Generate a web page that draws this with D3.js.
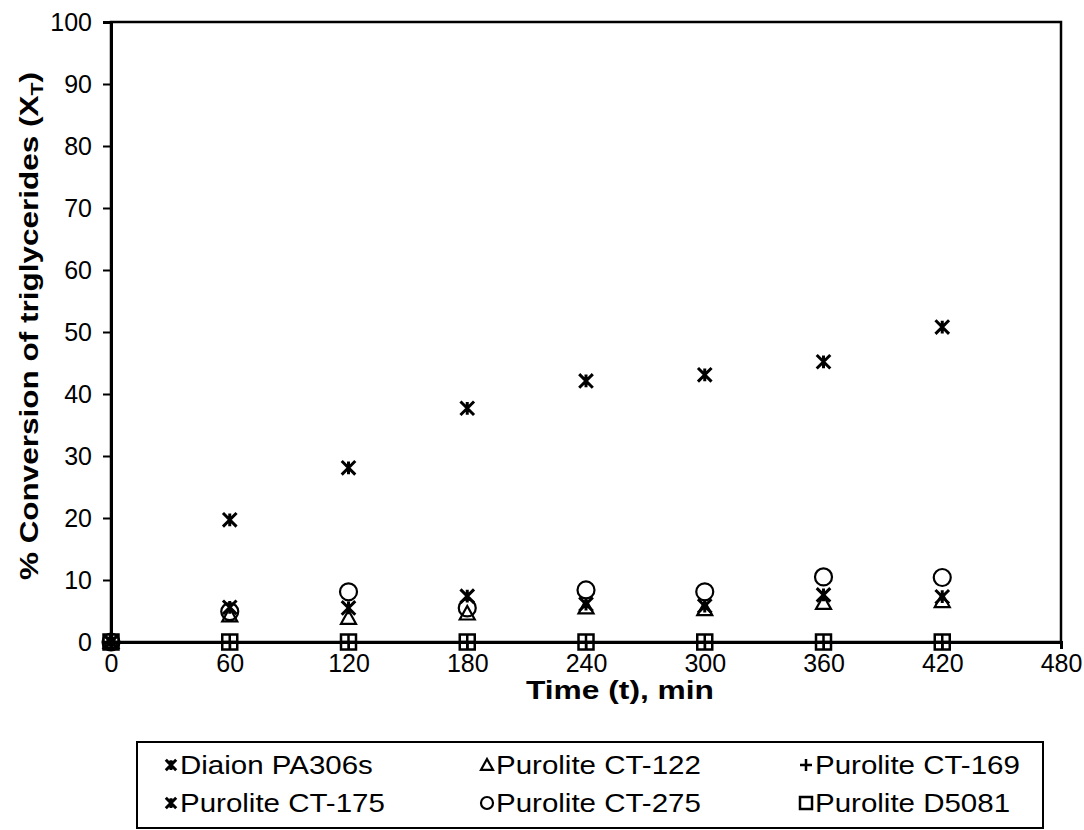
<!DOCTYPE html>
<html>
<head>
<meta charset="UTF-8">
<style>
body { margin: 0 ; background-color: #ffffff ; font-family: Arial, "Liberation Sans", sans-serif ; }
.tick text { font-size: 25px ; font-family: Arial, "Liberation Sans", sans-serif ; fill: #000 ; }
.legend-text { font-size: 25px ; }
</style>
<title>Conversion</title>
<script src="https://cdn.jsdelivr.net/npm/d3@7"></script>
</head>
<body>
<div id="chart"></div>
<script type="text/javascript" charset="utf-8">

	const times = [ 0, 60, 120, 180, 240, 300, 360, 420 ] ;
	const xTicks = [ 0, 60, 120, 180, 240, 300, 360, 420, 480 ] ;
	const yTicks = [ 0, 10, 20, 30, 40, 50, 60, 70, 80, 90, 100 ] ;

	const diaionPA306s = [ 0, 19.7, 28.1, 37.7, 42.1, 43.1, 45.2, 50.8 ] ;
	const puroliteCT122 = [ 0, 4.3, 3.9, 4.6, 5.6, 5.3, 6.3, 6.6 ] ;
	const puroliteCT169 = [ 0, 0, 0, 0, 0, 0, 0, 0 ] ;
	const puroliteCT175 = [ 0, 5.6, 5.5, 7.4, 6.1, 5.8, 7.6, 7.3 ] ;
	const puroliteCT275 = [ 0, 4.9, 8.1, 5.5, 8.4, 8.1, 10.5, 10.4 ] ;
	const puroliteD5081 = [ 0, 0, 0, 0, 0, 0, 0, 0 ] ;

	const seriesNames = [ "Diaion PA306s", "Purolite CT-122", "Purolite CT-169",
		"Purolite CT-175", "Purolite CT-275", "Purolite D5081" ] ;
	const seriesValues = [ diaionPA306s, puroliteCT122, puroliteCT169,
		puroliteCT175, puroliteCT275, puroliteD5081 ] ;
	const seriesMarkers = [ "asterisk", "triangle", "plus", "asterisk", "circle", "square" ] ;

	const width = 1084 ;
	const height = 830 ;
	const margin = { left: 111, right: 23, top: 22, bottom: 188 } ;
	const stretch = 1.18 ;	// reference glyphs are wider than plain Arial

	const svg = d3.select( "#chart" ).append( "svg" )
		.attr( "width", width )
		.attr( "height", height ) ;

	const x = d3.scaleLinear()
		.domain( [ 0, 480 ] )
		.range( [ margin.left, width - margin.right ] ) ;
	const y = d3.scaleLinear()
		.domain( [ 0, 100 ] )
		.range( [ height - margin.bottom, margin.top ] ) ;

	// plot frame
	svg.append( "rect" )
		.attr( "x", x(0) ).attr( "y", y(100) )
		.attr( "width", x(480) - x(0) ).attr( "height", y(0) - y(100) )
		.attr( "fill", "none" ).attr( "stroke", "#000" ).attr( "stroke-width", 2.5 ) ;

	const xAxis = svg.append( "g" )
		.attr( "transform", "translate(0," + y(0) + ")" )
		.call( d3.axisBottom( x ).tickValues( xTicks ).tickSize( 7 ).tickPadding( 5 ) ) ;
	const yAxis = svg.append( "g" )
		.attr( "transform", "translate(" + x(0) + ",0)" )
		.call( d3.axisLeft( y ).tickValues( yTicks ).tickSize( 8 ).tickPadding( 11 ) ) ;
	[ xAxis, yAxis ].forEach( function(a) {
		a.select( ".domain" ).attr( "stroke-width", 3 ) ;
		a.selectAll( ".tick line" ).attr( "stroke-width", 2 ) ;
	}) ;
	yAxis.selectAll( ".tick text" ).attr( "dy", "0.35em" ) ;

	// axis titles
	svg.append( "g" )
		.attr( "transform", "translate(620," + (y(0) + 57) + ") scale(1.22,1)" )
		.append( "text" )
		.attr( "text-anchor", "middle" )
		.attr( "font-size", 26 ).attr( "font-weight", "bold" )
		.text( "Time (t), min" ) ;

	const yTitle = svg.append( "g" )
		.attr( "transform", "translate(38,326) rotate(-90) scale(1.26,1)" )
		.append( "text" )
		.attr( "text-anchor", "middle" )
		.attr( "font-size", 25 ).attr( "font-weight", "bold" ) ;
	yTitle.append( "tspan" ).text( "% Conversion of triglycerides (X" ) ;
	yTitle.append( "tspan" ).attr( "font-size", 17 ).attr( "dy", 5 ).text( "T" ) ;
	yTitle.append( "tspan" ).attr( "dy", -5 ).text( ")" ) ;

	// marker drawing
	function drawMarker( g, type, s ) {
		const h = s / 2 ;
		if( type == "asterisk" ) {
			g.append( "path" )
				.attr( "d", "M" + (-h*0.8) + "," + (-h*0.8) + "L" + (h*0.8) + "," + (h*0.8) +
					"M" + (-h*0.8) + "," + (h*0.8) + "L" + (h*0.8) + "," + (-h*0.8) +
					"M0," + (-h*0.75) + "L0," + (h*0.75) )
				.attr( "stroke", "#000" ).attr( "stroke-width", 3 ).attr( "fill", "none" ) ;
		} else if( type == "triangle" ) {
			g.append( "path" )
				.attr( "d", "M0," + (-h) + "L" + h + "," + (h*0.8) + "L" + (-h) + "," + (h*0.8) + "Z" )
				.attr( "stroke", "#000" ).attr( "stroke-width", 2.2 ).attr( "fill", "none" ) ;
		} else if( type == "plus" ) {
			g.append( "path" )
				.attr( "d", "M" + (-h) + ",0L" + h + ",0M0," + (-h) + "L0," + h )
				.attr( "stroke", "#000" ).attr( "stroke-width", 2.5 ).attr( "fill", "none" ) ;
		} else if( type == "circle" ) {
			g.append( "circle" ).attr( "r", h )
				.attr( "stroke", "#000" ).attr( "stroke-width", 2.2 ).attr( "fill", "none" ) ;
		} else if( type == "square" ) {
			g.append( "rect" )
				.attr( "x", -h ).attr( "y", -h ).attr( "width", s ).attr( "height", s )
				.attr( "stroke", "#000" ).attr( "stroke-width", 2.5 ).attr( "fill", "none" ) ;
		}
	}

	const markerSize = { asterisk: 17, triangle: 15, plus: 14, circle: 17, square: 15 } ;

	seriesValues.forEach( function(vals, i) {
		const type = seriesMarkers[i] ;
		const pts = svg.append( "g" )
			.selectAll( "g.pt" )
			.data( vals.map( function(v, j) { return { t: times[j], v: v } ; } ) )
			.enter()
				.append( "g" )
				.attr( "class", "pt" )
				.attr( "transform", function(d) { return "translate(" + x(d.t) + "," + y(d.v) + ")" } ) ;
		pts.each( function() { drawMarker( d3.select( this ), type, markerSize[type] ) ; }) ;
	}) ;

	// legend
	svg.append( "rect" )
		.attr( "x", 137 ).attr( "y", 742 ).attr( "width", 906 ).attr( "height", 86 )
		.attr( "fill", "#fff" ).attr( "stroke", "#000" ).attr( "stroke-width", 2 ) ;

	const legendCols = [ 171, 487, 806 ] ;
	const legendRows = [ 765, 803 ] ;
	seriesNames.forEach( function(name, i) {
		const lx = legendCols[ i % 3 ] ;
		const ly = legendRows[ Math.floor( i / 3 ) ] ;
		const g = svg.append( "g" ).attr( "transform", "translate(" + lx + "," + ly + ")" ) ;
		const type = seriesMarkers[i] ;
		drawMarker( g, type, type == "asterisk" ? 13 : 12 ) ;
		g.append( "g" )
			.attr( "transform", "translate(9,0) scale(" + stretch + ",1)" )
			.append( "text" )
			.attr( "class", "legend-text" )
			.attr( "dy", "0.35em" )
			.text( name ) ;
	}) ;
</script>
</body>
</html>
